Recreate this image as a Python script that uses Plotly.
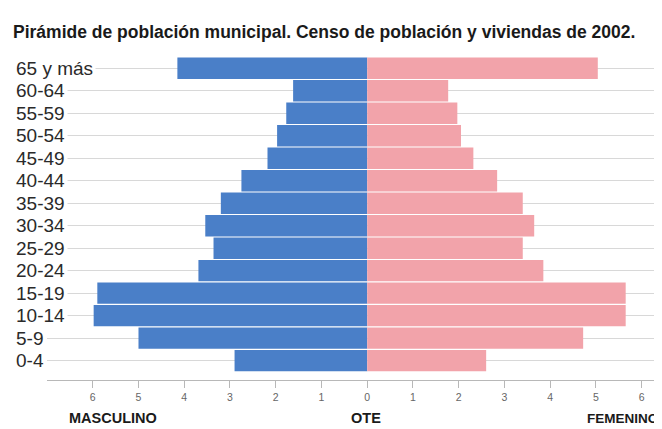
import plotly.graph_objects as go

categories = ["0-4", "5-9", "10-14", "15-19", "20-24", "25-29", "30-34",
              "35-39", "40-44", "45-49", "50-54", "55-59", "60-64", "65 y más"]
masculino = [2.9, 5.0, 5.98, 5.9, 3.69, 3.36, 3.54, 3.2, 2.75, 2.18, 1.97, 1.77, 1.62, 4.15]
femenino = [2.6, 4.72, 5.65, 5.65, 3.85, 3.4, 3.65, 3.4, 2.84, 2.32, 2.05, 1.97, 1.77, 5.04]
tick_vals = [-6, -5, -4, -3, -2, -1, 0, 1, 2, 3, 4, 5, 6]
tick_text = ["6", "5", "4", "3", "2", "1", "0", "1", "2", "3", "4", "5", "6"]

BLUE = "#4a7fc8"
PINK = "#f2a3aa"

fig = go.Figure()
fig.add_trace(go.Bar(y=categories, x=[-v for v in masculino], orientation="h",
                     marker=dict(color=BLUE, line=dict(width=0)), name="Masculino"))
fig.add_trace(go.Bar(y=categories, x=femenino, orientation="h",
                     marker=dict(color=PINK, line=dict(width=0)), name="Femenino"))

OFF = 8  # page body margin
W, H = 662 - OFF, 429 - OFF
ml, mr, mt, mb = 47 - OFF, 2, 57 - OFF, 49
pw = W - ml - mr
ph = H - mt - mb

def px_x(p):
    return (p - OFF - ml) / pw

def px_y(p):
    return 1 - (p - OFF - mt) / ph

FONT = "Liberation Sans, Arial"
annotations = []
for c in categories:
    annotations.append(dict(text=c, x=px_x(13), y=c, xref="paper", yref="y",
                            xanchor="left", yanchor="middle", showarrow=False,
                            bgcolor="white", borderpad=2,
                            font=dict(family=FONT, size=19, color="#2a2a2a")))

annotations += [
    dict(text="<b>Pirámide de población municipal. Censo de población y viviendas de 2002.</b>",
         x=px_x(11), y=px_y(32), xref="paper", yref="paper", xanchor="left", yanchor="middle",
         showarrow=False, font=dict(family=FONT, size=17.5, color="#1a1a1a")),
    dict(text="<b>MASCULINO</b>", x=px_x(113), y=px_y(418), xref="paper", yref="paper",
         xanchor="center", yanchor="middle", showarrow=False,
         font=dict(family=FONT, size=14.5, color="#1a1a1a")),
    dict(text="<b>OTE</b>", x=px_x(366), y=px_y(418), xref="paper", yref="paper",
         xanchor="center", yanchor="middle", showarrow=False,
         font=dict(family=FONT, size=14.5, color="#1a1a1a")),
    dict(text="<b>FEMENINO</b>", x=px_x(660), y=px_y(418), xref="paper", yref="paper",
         xanchor="right", yanchor="middle", showarrow=False,
         font=dict(family=FONT, size=13.5, color="#1a1a1a")),
]

fig.update_layout(
    width=W, height=H,
    margin=dict(l=ml, r=mr, t=mt, b=mb),
    paper_bgcolor="white", plot_bgcolor="white",
    barmode="relative", bargap=0.05,
    showlegend=False,
    annotations=annotations,
    xaxis=dict(range=[-7.0, 6.4], tickvals=tick_vals, ticktext=tick_text,
               showgrid=False, zeroline=False, showline=True, linecolor="#b8b8b8", linewidth=1,
               ticks="outside", ticklen=7, tickcolor="#b8b8b8",
               tickfont=dict(family=FONT, size=10.5, color="#666")),
    yaxis=dict(range=[-0.86, 13.5], showticklabels=False, showgrid=True,
               gridcolor="#d8d8d8", gridwidth=1, zeroline=False, showline=False, ticks=""),
)

fig.write_html("out.html")
